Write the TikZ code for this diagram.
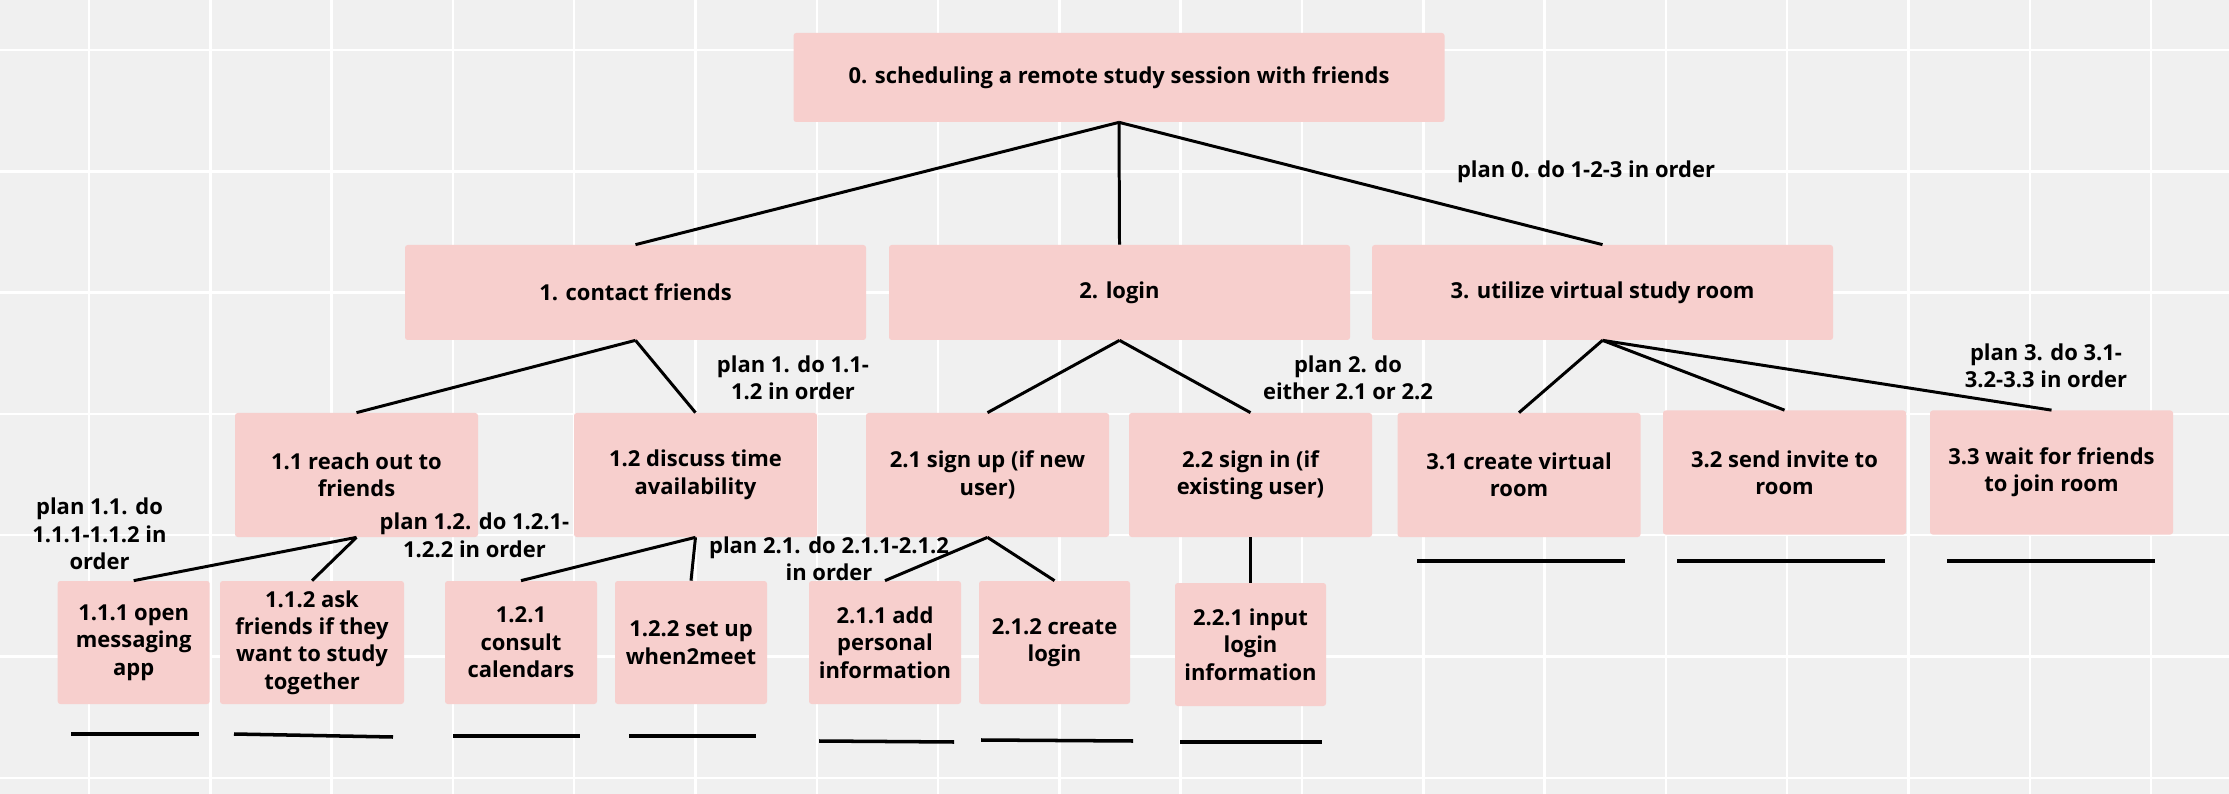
\documentclass[tikz,border=0pt]{standalone}
\usepackage{fontspec}
\setmainfont{Open Sans}
\usetikzlibrary{positioning}

\definecolor{boxpink}{RGB}{247,207,205}
\definecolor{boardgrey}{RGB}{240,240,240}

\tikzset{
  task/.style 2 args={fill=boxpink, rounded corners=1.5pt, align=center, inner sep=0pt,
    minimum width=#1*0.2mm, minimum height=#2*0.2mm,
    font=\bfseries\fontsize{12.5}{15.6}\selectfont},
  plan/.style={align=center, inner sep=0pt, font=\bfseries\fontsize{12.5}{15.6}\selectfont},
  link/.style={line width=1.7pt},
  blank/.style={line width=2pt},
}

\begin{document}
\begin{tikzpicture}[x=0.2mm, y=-0.2mm]

%//board with grid
\fill[boardgrey] (0,0) rectangle (2229,794);
\useasboundingbox (0,0) rectangle (2229,794);
\foreach \x in {0,...,17}
\draw[white, line width=1.4pt] (89+121.3*\x,0) -- (89+121.3*\x,794);
\foreach \y in {0,...,6}
\draw[white, line width=1.4pt] (0,50+121.3*\y) -- (2229,50+121.3*\y);

%//top goal
\node [task={651}{89}] (root) at (1119, 77.5) {0. scheduling a remote study session with friends};

%//level 1
\node [task={461}{95}] (n1) at (635.5, 292.5) {1. contact friends};
\node [task={461}{95}] (n2) at (1119.5, 292.5) {2. login};
\node [task={461}{95}] (n3) at (1602.5, 292.5) {3. utilize virtual study room};

%//level 2
\node [task={243}{124}] (n11) at (356.5, 475) {1.1 reach out to\\friends};
\node [task={243}{124}] (n12) at (695.5, 475) {1.2 discuss time\\availability};
\node [task={243}{124}] (n21) at (987.5, 475) {2.1 sign up (if new\\user)};
\node [task={243}{124}] (n22) at (1250.5, 475) {2.2 sign in (if\\existing user)};
\node [task={243}{124}] (n31) at (1519, 475) {3.1 create virtual\\room};
\node [task={243}{124}] (n32) at (1784.5, 472.5) {3.2 send invite to\\room};
\node [task={243}{124}] (n33) at (2051.5, 472.5) {3.3 wait for friends\\to join room};

%//level 3
\node [task={152}{123}] (n111) at (133.7, 642.5) {1.1.1 open\\messaging\\app};
\node [task={184}{123}] (n112) at (312, 642.5) {1.1.2 ask\\friends if they\\want to study\\together};
\node [task={152}{123}] (n121) at (521, 642.5) {1.2.1\\consult\\calendars};
\node [task={152}{123}] (n122) at (691, 642.5) {1.2.2 set up\\when2meet};
\node [task={152}{123}] (n211) at (885, 642.5) {2.1.1 add\\personal\\information};
\node [task={151}{123}] (n212) at (1054.5, 642.5) {2.1.2 create\\login};
\node [task={151}{123}] (n221) at (1250.5, 644.5) {2.2.1 input\\login\\information};

%//plans
\node [plan] (p0) at (1586, 172) {plan 0. do 1-2-3 in order};
\node [plan] (p1) at (793, 378) {plan 1. do 1.1-\\1.2 in order};
\node [plan] (p2) at (1348, 378) {plan 2. do\\either 2.1 or 2.2};
\node [plan] (p3) at (2046, 366) {plan 3. do 3.1-\\3.2-3.3 in order};
\node [plan] (p11) at (99.5, 534) {plan 1.1. do\\1.1.1-1.1.2 in\\order};
\node [plan] (p12) at (474.5, 535.4) {plan 1.2. do 1.2.1-\\1.2.2 in order};
\node [plan] (p21) at (829, 559) {plan 2.1. do 2.1.1-2.1.2\\in order};

%//connectors
\foreach \c in {n1,n2,n3}
\draw [link] (root.south) -- (\c.north);
\foreach \c in {n11,n12}
\draw [link] (n1.south) -- (\c.north);
\foreach \c in {n21,n22}
\draw [link] (n2.south) -- (\c.north);
\foreach \c in {n31,n32,n33}
\draw [link] (n3.south) -- (\c.north);
\foreach \c in {n111,n112}
\draw [link] (n11.south) -- (\c.north);
\foreach \c in {n121,n122}
\draw [link] (n12.south) -- (\c.north);
\foreach \c in {n211,n212}
\draw [link] (n21.south) -- (\c.north);
\draw [link] (n22.south) -- (n221.north);

%//stop lines under the leaves
\foreach \a/\b/\ya/\yb in {71/199/734/734, 234/393/734/737, 453/580/736/736, 629/756/736/736,
  819/954/741/742, 981/1133/740/741, 1180/1322/742/742,
  1417/1625/561/561, 1677/1885/561/561, 1947/2155/561/561}
\draw [blank] (\a,\ya) -- (\b,\yb);

\end{tikzpicture}
\end{document}
